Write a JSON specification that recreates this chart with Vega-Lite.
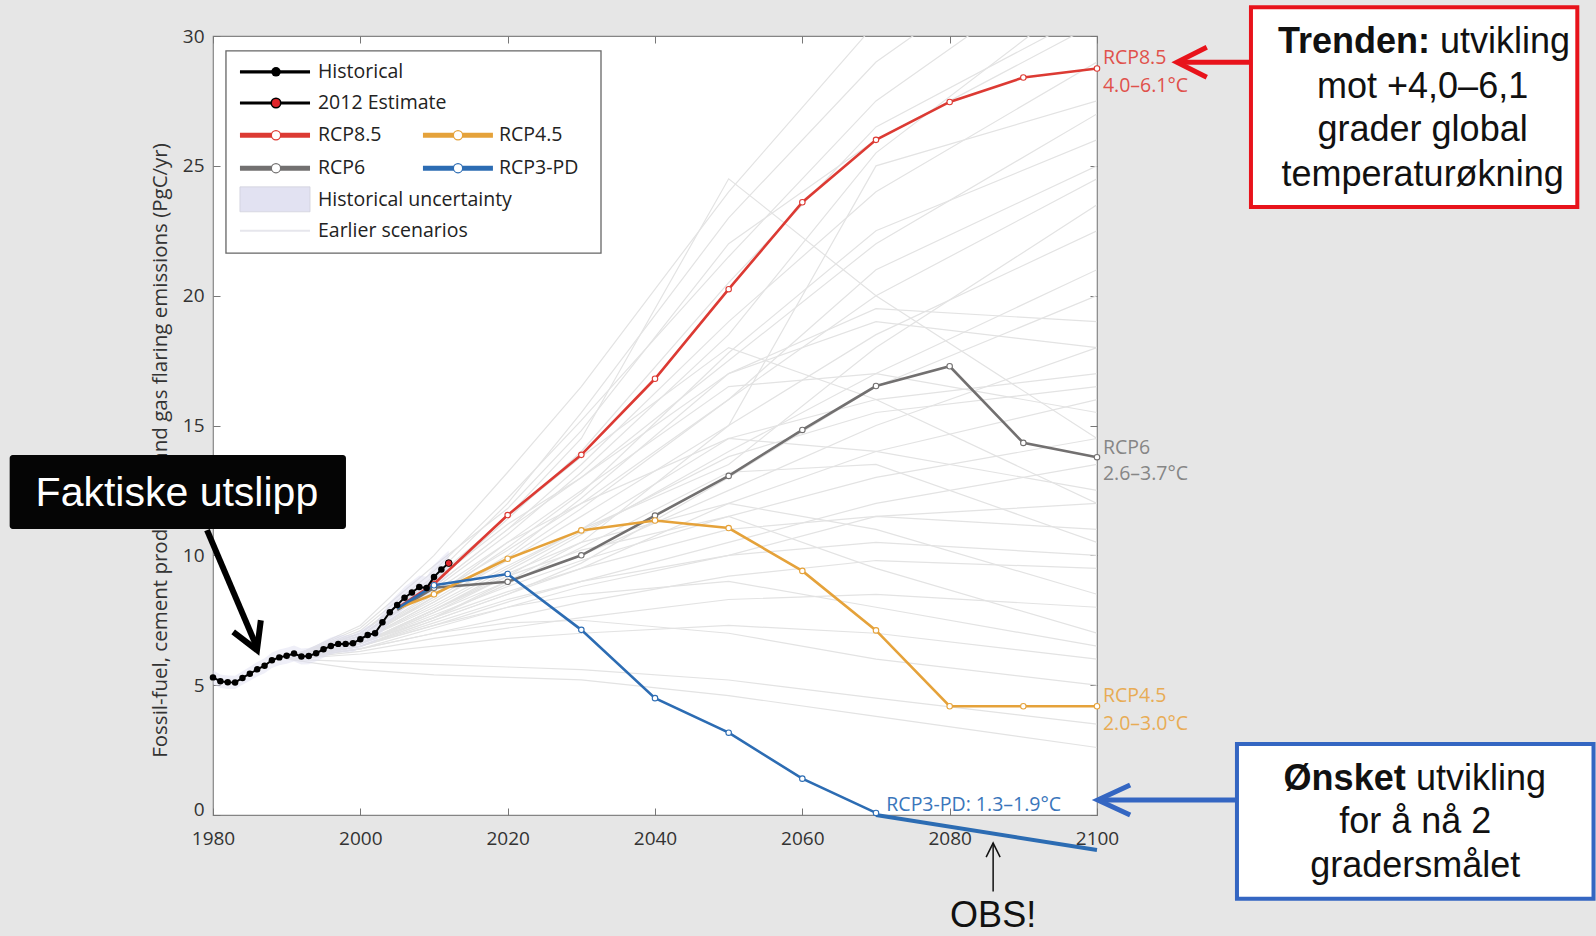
{
  "$schema": "https://vega.github.io/schema/vega-lite/v6.json",
  "width": 884,
  "height": 779,
  "autosize": {"type": "none"},
  "padding": {"left": 213, "top": 36, "right": 499, "bottom": 121},
  "background": "#e6e6e6",
  "view": {"fill": "white", "stroke": "#858585", "strokeWidth": 1.2},
  "config": {
    "font": "Open Sans",
    "axis": {"grid": false, "domain": false, "labelFont": "Open Sans", "titleFont": "Open Sans"}
  },
  "datasets": {
    "old": [
      {"id":1,"year":1990,"v":6.0},{"id":1,"year":2000,"v":7.3},{"id":1,"year":2010,"v":10.0},{"id":1,"year":2020,"v":13.2},{"id":1,"year":2030,"v":16.5},{"id":1,"year":2050,"v":24.0},{"id":1,"year":2070,"v":30.5},{"id":1,"year":2100,"v":37.0},
      {"id":2,"year":1990,"v":6.0},{"id":2,"year":2000,"v":7.1},{"id":2,"year":2010,"v":9.4},{"id":2,"year":2020,"v":12.2},{"id":2,"year":2030,"v":15.2},{"id":2,"year":2050,"v":21.5},{"id":2,"year":2070,"v":27.5},{"id":2,"year":2100,"v":33.5},
      {"id":3,"year":1990,"v":6.0},{"id":3,"year":2000,"v":7.2},{"id":3,"year":2010,"v":9.6},{"id":3,"year":2020,"v":11.8},{"id":3,"year":2030,"v":14.8},{"id":3,"year":2050,"v":22.0},{"id":3,"year":2070,"v":26.0},{"id":3,"year":2100,"v":30.5},
      {"id":4,"year":1990,"v":6.1},{"id":4,"year":2000,"v":6.9},{"id":4,"year":2010,"v":8.8},{"id":4,"year":2020,"v":11.0},{"id":4,"year":2030,"v":13.5},{"id":4,"year":2050,"v":19.0},{"id":4,"year":2070,"v":24.0},{"id":4,"year":2100,"v":29.0},
      {"id":5,"year":1990,"v":6.0},{"id":5,"year":2000,"v":7.0},{"id":5,"year":2010,"v":9.0},{"id":5,"year":2020,"v":11.2},{"id":5,"year":2030,"v":13.0},{"id":5,"year":2050,"v":17.5},{"id":5,"year":2070,"v":22.0},{"id":5,"year":2100,"v":27.0},
      {"id":6,"year":1990,"v":6.0},{"id":6,"year":2000,"v":6.8},{"id":6,"year":2010,"v":8.5},{"id":6,"year":2020,"v":10.2},{"id":6,"year":2030,"v":12.0},{"id":6,"year":2050,"v":16.0},{"id":6,"year":2070,"v":20.0},{"id":6,"year":2100,"v":24.5},
      {"id":7,"year":1990,"v":6.0},{"id":7,"year":2000,"v":6.7},{"id":7,"year":2010,"v":8.2},{"id":7,"year":2020,"v":9.8},{"id":7,"year":2030,"v":11.5},{"id":7,"year":2050,"v":15.0},{"id":7,"year":2070,"v":18.5},{"id":7,"year":2100,"v":22.5},
      {"id":8,"year":1990,"v":6.0},{"id":8,"year":2000,"v":7.0},{"id":8,"year":2010,"v":9.0},{"id":8,"year":2020,"v":11.5},{"id":8,"year":2030,"v":14.5},{"id":8,"year":2050,"v":24.5},{"id":8,"year":2070,"v":20.0},{"id":8,"year":2100,"v":14.5},
      {"id":9,"year":1990,"v":6.0},{"id":9,"year":2000,"v":6.6},{"id":9,"year":2010,"v":7.9},{"id":9,"year":2020,"v":9.2},{"id":9,"year":2030,"v":10.8},{"id":9,"year":2050,"v":14.0},{"id":9,"year":2070,"v":17.0},{"id":9,"year":2100,"v":21.0},
      {"id":10,"year":1990,"v":6.0},{"id":10,"year":2000,"v":6.8},{"id":10,"year":2010,"v":8.3},{"id":10,"year":2020,"v":10.0},{"id":10,"year":2030,"v":12.2},{"id":10,"year":2050,"v":17.0},{"id":10,"year":2070,"v":19.5},{"id":10,"year":2100,"v":19.0},
      {"id":11,"year":1990,"v":6.0},{"id":11,"year":2000,"v":6.6},{"id":11,"year":2010,"v":7.8},{"id":11,"year":2020,"v":9.0},{"id":11,"year":2030,"v":10.0},{"id":11,"year":2050,"v":12.5},{"id":11,"year":2070,"v":15.0},{"id":11,"year":2100,"v":18.0},
      {"id":12,"year":1990,"v":6.0},{"id":12,"year":2000,"v":6.7},{"id":12,"year":2010,"v":8.0},{"id":12,"year":2020,"v":9.5},{"id":12,"year":2030,"v":11.0},{"id":12,"year":2050,"v":14.5},{"id":12,"year":2070,"v":16.0},{"id":12,"year":2100,"v":17.0},
      {"id":13,"year":1990,"v":6.0},{"id":13,"year":2000,"v":6.5},{"id":13,"year":2010,"v":7.5},{"id":13,"year":2020,"v":8.5},{"id":13,"year":2030,"v":9.5},{"id":13,"year":2050,"v":12.0},{"id":13,"year":2070,"v":14.0},{"id":13,"year":2100,"v":16.0},
      {"id":14,"year":1990,"v":6.0},{"id":14,"year":2000,"v":6.7},{"id":14,"year":2010,"v":8.4},{"id":14,"year":2020,"v":10.5},{"id":14,"year":2030,"v":12.5},{"id":14,"year":2050,"v":16.5},{"id":14,"year":2070,"v":17.0},{"id":14,"year":2100,"v":15.5},
      {"id":15,"year":1990,"v":6.0},{"id":15,"year":2000,"v":6.6},{"id":15,"year":2010,"v":7.7},{"id":15,"year":2020,"v":8.8},{"id":15,"year":2030,"v":9.8},{"id":15,"year":2050,"v":11.5},{"id":15,"year":2070,"v":13.0},{"id":15,"year":2100,"v":14.5},
      {"id":16,"year":1990,"v":6.0},{"id":16,"year":2000,"v":6.5},{"id":16,"year":2010,"v":7.3},{"id":16,"year":2020,"v":8.2},{"id":16,"year":2030,"v":9.0},{"id":16,"year":2050,"v":10.5},{"id":16,"year":2070,"v":12.0},{"id":16,"year":2100,"v":13.5},
      {"id":17,"year":1990,"v":6.0},{"id":17,"year":2000,"v":6.8},{"id":17,"year":2010,"v":8.6},{"id":17,"year":2020,"v":10.5},{"id":17,"year":2030,"v":12.0},{"id":17,"year":2050,"v":14.5},{"id":17,"year":2070,"v":14.0},{"id":17,"year":2100,"v":12.5},
      {"id":18,"year":1990,"v":6.0},{"id":18,"year":2000,"v":6.4},{"id":18,"year":2010,"v":7.2},{"id":18,"year":2020,"v":8.0},{"id":18,"year":2030,"v":8.8},{"id":18,"year":2050,"v":10.0},{"id":18,"year":2070,"v":11.5},{"id":18,"year":2100,"v":12.0},
      {"id":19,"year":1990,"v":6.0},{"id":19,"year":2000,"v":6.6},{"id":19,"year":2010,"v":7.6},{"id":19,"year":2020,"v":8.6},{"id":19,"year":2030,"v":9.5},{"id":19,"year":2050,"v":11.0},{"id":19,"year":2070,"v":11.5},{"id":19,"year":2100,"v":11.0},
      {"id":20,"year":1990,"v":6.0},{"id":20,"year":2000,"v":6.5},{"id":20,"year":2010,"v":7.4},{"id":20,"year":2020,"v":8.3},{"id":20,"year":2030,"v":9.0},{"id":20,"year":2050,"v":10.0},{"id":20,"year":2070,"v":10.5},{"id":20,"year":2100,"v":10.0},
      {"id":21,"year":1990,"v":6.0},{"id":21,"year":2000,"v":6.4},{"id":21,"year":2010,"v":7.0},{"id":21,"year":2020,"v":7.6},{"id":21,"year":2030,"v":8.2},{"id":21,"year":2050,"v":9.2},{"id":21,"year":2070,"v":9.8},{"id":21,"year":2100,"v":9.5},
      {"id":22,"year":1990,"v":6.0},{"id":22,"year":2000,"v":6.6},{"id":22,"year":2010,"v":7.9},{"id":22,"year":2020,"v":9.3},{"id":22,"year":2030,"v":10.5},{"id":22,"year":2050,"v":12.0},{"id":22,"year":2070,"v":11.0},{"id":22,"year":2100,"v":8.5},
      {"id":23,"year":1990,"v":6.0},{"id":23,"year":2000,"v":6.3},{"id":23,"year":2010,"v":6.8},{"id":23,"year":2020,"v":7.2},{"id":23,"year":2030,"v":7.6},{"id":23,"year":2050,"v":8.3},{"id":23,"year":2070,"v":8.5},{"id":23,"year":2100,"v":8.0},
      {"id":24,"year":1990,"v":6.0},{"id":24,"year":2000,"v":6.5},{"id":24,"year":2010,"v":7.3},{"id":24,"year":2020,"v":8.0},{"id":24,"year":2030,"v":8.5},{"id":24,"year":2050,"v":9.0},{"id":24,"year":2070,"v":8.0},{"id":24,"year":2100,"v":6.5},
      {"id":25,"year":1990,"v":6.0},{"id":25,"year":2000,"v":6.2},{"id":25,"year":2010,"v":6.5},{"id":25,"year":2020,"v":6.8},{"id":25,"year":2030,"v":7.0},{"id":25,"year":2050,"v":7.3},{"id":25,"year":2070,"v":7.0},{"id":25,"year":2100,"v":6.0},
      {"id":26,"year":1990,"v":6.0},{"id":26,"year":2000,"v":6.4},{"id":26,"year":2010,"v":7.0},{"id":26,"year":2020,"v":7.4},{"id":26,"year":2030,"v":7.5},{"id":26,"year":2050,"v":7.0},{"id":26,"year":2070,"v":6.0},{"id":26,"year":2100,"v":5.0},
      {"id":27,"year":1990,"v":6.0},{"id":27,"year":2000,"v":5.9},{"id":27,"year":2010,"v":5.8},{"id":27,"year":2020,"v":5.7},{"id":27,"year":2030,"v":5.6},{"id":27,"year":2050,"v":5.2},{"id":27,"year":2070,"v":4.5},{"id":27,"year":2100,"v":3.5},
      {"id":28,"year":1990,"v":6.0},{"id":28,"year":2000,"v":5.6},{"id":28,"year":2010,"v":5.4},{"id":28,"year":2020,"v":5.3},{"id":28,"year":2030,"v":5.2},{"id":28,"year":2050,"v":4.6},{"id":28,"year":2070,"v":3.8},{"id":28,"year":2100,"v":2.6},
      {"id":29,"year":1990,"v":6.0},{"id":29,"year":2000,"v":6.6},{"id":29,"year":2010,"v":7.6},{"id":29,"year":2020,"v":9.0},{"id":29,"year":2030,"v":10.5},{"id":29,"year":2050,"v":15.0},{"id":29,"year":2070,"v":25.0},{"id":29,"year":2100,"v":27.5},
      {"id":30,"year":1990,"v":6.0},{"id":30,"year":2000,"v":6.9},{"id":30,"year":2010,"v":8.9},{"id":30,"year":2020,"v":11.4},{"id":30,"year":2030,"v":14.0},{"id":30,"year":2050,"v":20.5},{"id":30,"year":2070,"v":26.5},{"id":30,"year":2100,"v":31.0},
      {"id":31,"year":1990,"v":6.1},{"id":31,"year":2000,"v":7.0},{"id":31,"year":2010,"v":9.1},{"id":31,"year":2020,"v":11.5},{"id":31,"year":2030,"v":13.8},{"id":31,"year":2050,"v":18.0},{"id":31,"year":2070,"v":16.0},{"id":31,"year":2100,"v":12.0},
      {"id":32,"year":1990,"v":6.0},{"id":32,"year":2000,"v":6.6},{"id":32,"year":2010,"v":7.8},{"id":32,"year":2020,"v":9.2},{"id":32,"year":2030,"v":10.2},{"id":32,"year":2050,"v":11.5},{"id":32,"year":2070,"v":9.5},{"id":32,"year":2100,"v":7.0},
      {"id":33,"year":1990,"v":6.0},{"id":33,"year":2000,"v":6.7},{"id":33,"year":2010,"v":8.1},{"id":33,"year":2020,"v":9.6},{"id":33,"year":2030,"v":11.0},{"id":33,"year":2050,"v":13.5},{"id":33,"year":2070,"v":18.0},{"id":33,"year":2100,"v":23.5},
      {"id":34,"year":1990,"v":6.0},{"id":34,"year":2000,"v":6.5},{"id":34,"year":2010,"v":7.5},{"id":34,"year":2020,"v":8.5},{"id":34,"year":2030,"v":9.7},{"id":34,"year":2050,"v":13.0},{"id":34,"year":2070,"v":16.5},{"id":34,"year":2100,"v":20.0},
      {"id":35,"year":1990,"v":6.0},{"id":35,"year":2000,"v":6.9},{"id":35,"year":2010,"v":8.7},{"id":35,"year":2020,"v":10.8},{"id":35,"year":2030,"v":13.2},{"id":35,"year":2050,"v":18.5},{"id":35,"year":2070,"v":25.5},{"id":35,"year":2100,"v":32.0},
      {"id":36,"year":1990,"v":6.0},{"id":36,"year":2000,"v":6.8},{"id":36,"year":2010,"v":8.4},{"id":36,"year":2020,"v":10.3},{"id":36,"year":2030,"v":12.4},{"id":36,"year":2050,"v":17.8},{"id":36,"year":2070,"v":22.5},{"id":36,"year":2100,"v":26.0},
      {"id":37,"year":1990,"v":6.0},{"id":37,"year":2000,"v":6.7},{"id":37,"year":2010,"v":8.2},{"id":37,"year":2020,"v":9.9},{"id":37,"year":2030,"v":11.8},{"id":37,"year":2050,"v":16.0},{"id":37,"year":2070,"v":21.0},{"id":37,"year":2100,"v":25.0},
      {"id":38,"year":1990,"v":6.0},{"id":38,"year":2000,"v":6.9},{"id":38,"year":2010,"v":8.8},{"id":38,"year":2020,"v":11.0},{"id":38,"year":2030,"v":13.0},{"id":38,"year":2050,"v":17.0},{"id":38,"year":2070,"v":19.0},{"id":38,"year":2100,"v":18.0},
      {"id":39,"year":1990,"v":6.0},{"id":39,"year":2000,"v":6.6},{"id":39,"year":2010,"v":7.9},{"id":39,"year":2020,"v":9.4},{"id":39,"year":2030,"v":10.9},{"id":39,"year":2050,"v":13.8},{"id":39,"year":2070,"v":15.5},{"id":39,"year":2100,"v":16.5},
      {"id":40,"year":1990,"v":6.0},{"id":40,"year":2000,"v":6.5},{"id":40,"year":2010,"v":7.6},{"id":40,"year":2020,"v":8.9},{"id":40,"year":2030,"v":10.3},{"id":40,"year":2050,"v":13.2},{"id":40,"year":2070,"v":13.5},{"id":40,"year":2100,"v":10.5},
      {"id":41,"year":1990,"v":6.0},{"id":41,"year":2000,"v":7.0},{"id":41,"year":2010,"v":9.2},{"id":41,"year":2020,"v":12.0},{"id":41,"year":2030,"v":15.5},{"id":41,"year":2050,"v":23.0},{"id":41,"year":2070,"v":29.0},{"id":41,"year":2100,"v":35.0}
    ],
    "hist": [
      {"year":1980,"v":5.30,"lo":5.04,"hi":5.57},{"year":1981,"v":5.15,"lo":4.89,"hi":5.41},{"year":1982,"v":5.11,"lo":4.85,"hi":5.37},{"year":1983,"v":5.10,"lo":4.85,"hi":5.36},
      {"year":1984,"v":5.28,"lo":5.02,"hi":5.54},{"year":1985,"v":5.44,"lo":5.17,"hi":5.71},{"year":1986,"v":5.61,"lo":5.33,"hi":5.89},{"year":1987,"v":5.75,"lo":5.46,"hi":6.04},
      {"year":1988,"v":5.96,"lo":5.66,"hi":6.26},{"year":1989,"v":6.07,"lo":5.77,"hi":6.37},{"year":1990,"v":6.13,"lo":5.82,"hi":6.44},{"year":1991,"v":6.22,"lo":5.91,"hi":6.53},
      {"year":1992,"v":6.10,"lo":5.80,"hi":6.41},{"year":1993,"v":6.12,"lo":5.81,"hi":6.43},{"year":1994,"v":6.23,"lo":5.92,"hi":6.54},{"year":1995,"v":6.38,"lo":6.06,"hi":6.70},
      {"year":1996,"v":6.51,"lo":6.18,"hi":6.84},{"year":1997,"v":6.59,"lo":6.26,"hi":6.92},{"year":1998,"v":6.59,"lo":6.26,"hi":6.92},{"year":1999,"v":6.61,"lo":6.28,"hi":6.94},
      {"year":2000,"v":6.77,"lo":6.43,"hi":7.11},{"year":2001,"v":6.93,"lo":6.58,"hi":7.28},{"year":2002,"v":7.00,"lo":6.65,"hi":7.35},{"year":2003,"v":7.42,"lo":7.05,"hi":7.79},
      {"year":2004,"v":7.81,"lo":7.42,"hi":8.20},{"year":2005,"v":8.09,"lo":7.69,"hi":8.49},{"year":2006,"v":8.37,"lo":7.95,"hi":8.79},{"year":2007,"v":8.57,"lo":8.14,"hi":9.00},
      {"year":2008,"v":8.78,"lo":8.34,"hi":9.22},{"year":2009,"v":8.74,"lo":8.30,"hi":9.18},{"year":2010,"v":9.17,"lo":8.71,"hi":9.63},{"year":2011,"v":9.45,"lo":8.98,"hi":9.92},
      {"year":2012,"v":9.70,"lo":9.22,"hi":10.19}
    ],
    "rcp": [
      {"s":"RCP8.5","year":2005,"v":7.97},{"s":"RCP8.5","year":2010,"v":8.9},{"s":"RCP8.5","year":2020,"v":11.55},{"s":"RCP8.5","year":2030,"v":13.87},{"s":"RCP8.5","year":2040,"v":16.8},{"s":"RCP8.5","year":2050,"v":20.25},{"s":"RCP8.5","year":2060,"v":23.6},{"s":"RCP8.5","year":2070,"v":26.0},{"s":"RCP8.5","year":2080,"v":27.46},{"s":"RCP8.5","year":2090,"v":28.4},{"s":"RCP8.5","year":2100,"v":28.75},
      {"s":"RCP6","year":2005,"v":7.9},{"s":"RCP6","year":2010,"v":8.75},{"s":"RCP6","year":2020,"v":8.98},{"s":"RCP6","year":2030,"v":10.0},{"s":"RCP6","year":2040,"v":11.53},{"s":"RCP6","year":2050,"v":13.06},{"s":"RCP6","year":2060,"v":14.83},{"s":"RCP6","year":2070,"v":16.52},{"s":"RCP6","year":2080,"v":17.28},{"s":"RCP6","year":2090,"v":14.33},{"s":"RCP6","year":2100,"v":13.78},
      {"s":"RCP4.5","year":2005,"v":7.95},{"s":"RCP4.5","year":2010,"v":8.5},{"s":"RCP4.5","year":2020,"v":9.87},{"s":"RCP4.5","year":2030,"v":10.96},{"s":"RCP4.5","year":2040,"v":11.34},{"s":"RCP4.5","year":2050,"v":11.05},{"s":"RCP4.5","year":2060,"v":9.4},{"s":"RCP4.5","year":2070,"v":7.11},{"s":"RCP4.5","year":2080,"v":4.19},{"s":"RCP4.5","year":2090,"v":4.19},{"s":"RCP4.5","year":2100,"v":4.19},
      {"s":"RCP3-PD","year":2005,"v":7.95},{"s":"RCP3-PD","year":2010,"v":8.85},{"s":"RCP3-PD","year":2020,"v":9.28},{"s":"RCP3-PD","year":2030,"v":7.13},{"s":"RCP3-PD","year":2040,"v":4.5},{"s":"RCP3-PD","year":2050,"v":3.17},{"s":"RCP3-PD","year":2060,"v":1.4},{"s":"RCP3-PD","year":2070,"v":0.08}
    ],
    "ext": [{"year":2070,"v":0.0},{"year":2100,"v":-1.35}],
    "rcplab": [
      {"s":"RCP8.5","x":2100.8,"y":29.15,"t":"RCP8.5"},{"s":"RCP8.5","x":2100.8,"y":28.07,"t":"4.0–6.1°C"},
      {"s":"RCP6","x":2100.8,"y":14.13,"t":"RCP6"},{"s":"RCP6","x":2100.8,"y":13.13,"t":"2.6–3.7°C"},
      {"s":"RCP4.5","x":2100.8,"y":4.58,"t":"RCP4.5"},{"s":"RCP4.5","x":2100.8,"y":3.5,"t":"2.0–3.0°C"},
      {"s":"RCP3-PD","x":2071.4,"y":0.4,"t":"RCP3-PD: 1.3–1.9°C"}
    ],
    "legbox": [{"x":1981.76,"x2":2032.67,"y":29.43,"y2":21.64}],
    "legunc": [{"x":1983.66,"x2":1993.17,"y":24.19,"y2":23.23}],
    "legblack": [
      {"s":"Historical","x":1983.66,"x2":1993.17,"y":28.62},
      {"s":"2012 Estimate","x":1983.66,"x2":1993.17,"y":27.42}
    ],
    "legrcp": [
      {"s":"RCP8.5","x":1983.66,"x2":1993.17,"y":26.18,"mx":1988.55},
      {"s":"RCP4.5","x":2008.5,"x2":2018.0,"y":26.18,"mx":2013.26},
      {"s":"RCP6","x":1983.66,"x2":1993.17,"y":24.91,"mx":1988.55},
      {"s":"RCP3-PD","x":2008.5,"x2":2018.0,"y":24.91,"mx":2013.26}
    ],
    "legold": [{"x":1983.66,"x2":1993.17,"y":22.5}],
    "leghist": [{"x":1988.55,"y":28.62}],
    "legest": [{"x":1988.55,"y":27.42}],
    "legtext": [
      {"x":1994.25,"y":28.62,"t":"Historical"},
      {"x":1994.25,"y":27.42,"t":"2012 Estimate"},
      {"x":1994.25,"y":26.18,"t":"RCP8.5"},
      {"x":2018.82,"y":26.18,"t":"RCP4.5"},
      {"x":1994.25,"y":24.91,"t":"RCP6"},
      {"x":2018.82,"y":24.91,"t":"RCP3-PD"},
      {"x":1994.25,"y":23.68,"t":"Historical uncertainty"},
      {"x":1994.25,"y":22.5,"t":"Earlier scenarios"}
    ],
    "boxred": [{"x":2120.9,"x2":2165.2,"y":31.11,"y2":23.41}],
    "boxblue": [{"x":2119.0,"x2":2167.4,"y":2.73,"y2":-3.23}],
    "boxblack": [{"x":1952.4,"x2":1998.05,"y":13.86,"y2":11.01}],
    "bigbold": [
      {"x":2145.2,"y":29.77,"t":"Trenden:"},
      {"x":2141.9,"y":1.39,"t":"Ønsket"}
    ],
    "bigleft": [
      {"x":2146.55,"y":29.77,"t":"utvikling"},
      {"x":2143.3,"y":1.39,"t":"utvikling"}
    ],
    "bigcenter": [
      {"x":2144.2,"y":28.03,"t":"mot +4,0–6,1"},
      {"x":2144.2,"y":26.38,"t":"grader global"},
      {"x":2144.2,"y":24.65,"t":"temperaturøkning"},
      {"x":2143.2,"y":-0.27,"t":"for å nå 2"},
      {"x":2143.2,"y":-1.96,"t":"gradersmålet"},
      {"x":2085.9,"y":-3.88,"t":"OBS!"}
    ],
    "whitetext": [{"x":1975.1,"y":12.36,"t":"Faktiske utslipp"}],
    "arrred": [
      {"p":"a","o":1,"x":2111.3,"y":28.99},{"p":"a","o":2,"x":2121.0,"y":28.99},
      {"p":"b","o":1,"x":2114.9,"y":29.57},{"p":"b","o":2,"x":2110.85,"y":28.99},{"p":"b","o":3,"x":2114.9,"y":28.41}
    ],
    "arrblue": [
      {"p":"a","o":1,"x":2100.5,"y":0.578},{"p":"a","o":2,"x":2119.0,"y":0.578},
      {"p":"b","o":1,"x":2104.5,"y":1.155},{"p":"b","o":2,"x":2100.1,"y":0.578},{"p":"b","o":3,"x":2104.5,"y":0.0}
    ],
    "arrblack": [
      {"p":"a","o":1,"x":1979.19,"y":10.97},{"p":"a","o":2,"x":1985.9,"y":6.5},
      {"p":"b","o":1,"x":1982.74,"y":7.05},{"p":"b","o":2,"x":1985.97,"y":6.35},{"p":"b","o":3,"x":1986.49,"y":7.5}
    ],
    "arrobs": [
      {"p":"a","o":1,"x":2085.9,"y":-2.95},{"p":"a","o":2,"x":2085.9,"y":-1.08},
      {"p":"b","o":1,"x":2084.95,"y":-1.62},{"p":"b","o":2,"x":2085.9,"y":-1.08},{"p":"b","o":3,"x":2086.85,"y":-1.62}
    ]
  },
  "layer": [
    {
      "data": {"name": "old"},
      "mark": {"type": "line", "clip": true, "color": "#e3e3e3", "strokeWidth": 1.2},
      "encoding": {
        "x": {"field": "year", "type": "quantitative", "scale": {"domain": [1980, 2100], "nice": false, "zero": false},
          "axis": {"orient": "bottom", "values": [1980, 2000, 2020, 2040, 2060, 2080, 2100], "format": "d", "title": null, "labelFlush": false,
            "tickSize": -7, "tickColor": "#777", "labelPadding": 21, "labelFontSize": 19, "labelColor": "#333"}},
        "y": {"field": "v", "type": "quantitative", "scale": {"domain": [0, 30], "nice": false},
          "axis": {"orient": "left", "values": [0, 5, 10, 15, 20, 25, 30], "tickSize": -7, "tickColor": "#777", "labelPadding": 16,
            "labelFontSize": 19, "labelColor": "#333", "labelFlush": false,
            "labelBaseline": {"condition": {"test": "datum.value == 0", "value": "alphabetic"}, "value": "middle"},
            "title": "Fossil-fuel, cement production and gas flaring emissions (PgC/yr)",
            "titleFontSize": 20.5, "titleFontWeight": "normal", "titleColor": "#333", "titlePadding": 12, "titleY": 414}},
        "detail": {"field": "id"}
      }
    },
    {
      "data": {"name": "hist"},
      "mark": {"type": "area", "color": "#dcdcf0", "opacity": 0.45},
      "encoding": {
        "x": {"field": "year", "type": "quantitative", "scale": {"domain": [1980, 2100], "nice": false, "zero": false},
          "axis": {"orient": "top", "values": [1980, 2000, 2020, 2040, 2060, 2080, 2100], "labels": false, "title": null, "tickSize": -7, "tickColor": "#777"}},
        "y": {"field": "lo", "type": "quantitative", "scale": {"domain": [0, 30], "nice": false},
          "axis": {"orient": "right", "values": [0, 5, 10, 15, 20, 25, 30], "labels": false, "title": null, "tickSize": -7, "tickColor": "#777"}},
        "y2": {"field": "hi"}
      }
    },
    {
      "data": {"name": "rcp"},
      "mark": {"type": "line", "strokeWidth": 2.6},
      "encoding": {
        "x": {"field": "year", "type": "quantitative", "axis": null},
        "y": {"field": "v", "type": "quantitative", "axis": null},
        "color": {"field": "s", "type": "nominal", "legend": null,
          "scale": {"domain": ["RCP8.5", "RCP6", "RCP4.5", "RCP3-PD", "Historical", "2012 Estimate"], "range": ["#dc3a33", "#727070", "#e5a23a", "#2c6cb3", "#000000", "#000000"]}}
      }
    },
    {
      "data": {"name": "ext"},
      "mark": {"type": "line", "strokeWidth": 4, "color": "#2c6cb3"},
      "encoding": {
        "x": {"field": "year", "type": "quantitative", "axis": null},
        "y": {"field": "v", "type": "quantitative", "axis": null}
      }
    },
    {
      "data": {"name": "rcp"},
      "transform": [{"filter": "datum.year >= 2010"}],
      "mark": {"type": "point", "filled": true, "fill": "white", "size": 30, "strokeWidth": 1.1, "opacity": 1},
      "encoding": {
        "x": {"field": "year", "type": "quantitative", "axis": null},
        "y": {"field": "v", "type": "quantitative", "axis": null},
        "stroke": {"field": "s", "type": "nominal", "legend": null,
          "scale": {"domain": ["RCP8.5", "RCP6", "RCP4.5", "RCP3-PD"], "range": ["#dc3a33", "#727070", "#e5a23a", "#2c6cb3"]}}
      }
    },
    {
      "data": {"name": "hist"},
      "mark": {"type": "line", "color": "#000000", "strokeWidth": 2},
      "encoding": {
        "x": {"field": "year", "type": "quantitative", "axis": null},
        "y": {"field": "v", "type": "quantitative", "axis": null}
      }
    },
    {
      "data": {"name": "hist"},
      "transform": [{"filter": "datum.year <= 2011"}],
      "mark": {"type": "point", "filled": true, "color": "#000000", "size": 42, "opacity": 1},
      "encoding": {
        "x": {"field": "year", "type": "quantitative", "axis": null},
        "y": {"field": "v", "type": "quantitative", "axis": null}
      }
    },
    {
      "data": {"name": "hist"},
      "transform": [{"filter": "datum.year == 2012"}],
      "mark": {"type": "point", "filled": true, "fill": "#e0242a", "stroke": "#000000", "strokeWidth": 1, "size": 46, "opacity": 1},
      "encoding": {
        "x": {"field": "year", "type": "quantitative", "axis": null},
        "y": {"field": "v", "type": "quantitative", "axis": null}
      }
    },
    {
      "data": {"name": "rcplab"},
      "mark": {"type": "text", "align": "left", "baseline": "middle", "fontSize": 19.5, "font": "Open Sans"},
      "encoding": {
        "x": {"field": "x", "type": "quantitative", "axis": null},
        "y": {"field": "y", "type": "quantitative", "axis": null},
        "text": {"field": "t"},
        "fill": {"field": "s", "type": "nominal", "legend": null,
          "scale": {"domain": ["RCP8.5", "RCP6", "RCP4.5", "RCP3-PD"], "range": ["#e0514b", "#868686", "#e8ac55", "#3a76bb"]}}
      }
    },
    {
      "data": {"name": "legbox"},
      "mark": {"type": "rect", "fill": "white", "stroke": "#666666", "strokeWidth": 1.3},
      "encoding": {
        "x": {"field": "x", "type": "quantitative", "axis": null},
        "x2": {"field": "x2"},
        "y": {"field": "y", "type": "quantitative", "axis": null},
        "y2": {"field": "y2"}
      }
    },
    {
      "data": {"name": "legunc"},
      "mark": {"type": "rect", "fill": "#e2e2f2", "stroke": "#d0d0dc", "strokeWidth": 0.8},
      "encoding": {
        "x": {"field": "x", "type": "quantitative", "axis": null},
        "x2": {"field": "x2"},
        "y": {"field": "y", "type": "quantitative", "axis": null},
        "y2": {"field": "y2"}
      }
    },
    {
      "data": {"name": "legold"},
      "mark": {"type": "rule", "color": "#e6e6ec", "strokeWidth": 2},
      "encoding": {
        "x": {"field": "x", "type": "quantitative", "axis": null},
        "x2": {"field": "x2"},
        "y": {"field": "y", "type": "quantitative", "axis": null}
      }
    },
    {
      "data": {"name": "legblack"},
      "mark": {"type": "rule", "color": "#000000", "strokeWidth": 3.2},
      "encoding": {
        "x": {"field": "x", "type": "quantitative", "axis": null},
        "x2": {"field": "x2"},
        "y": {"field": "y", "type": "quantitative", "axis": null}
      }
    },
    {
      "data": {"name": "legrcp"},
      "mark": {"type": "rule", "strokeWidth": 5},
      "encoding": {
        "x": {"field": "x", "type": "quantitative", "axis": null},
        "x2": {"field": "x2"},
        "y": {"field": "y", "type": "quantitative", "axis": null},
        "color": {"field": "s", "type": "nominal", "legend": null,
          "scale": {"domain": ["RCP8.5", "RCP6", "RCP4.5", "RCP3-PD", "Historical", "2012 Estimate"], "range": ["#dc3a33", "#727070", "#e5a23a", "#2c6cb3", "#000000", "#000000"]}}
      }
    },
    {
      "data": {"name": "legrcp"},
      "mark": {"type": "point", "filled": true, "fill": "white", "size": 85, "strokeWidth": 1.2, "opacity": 1},
      "encoding": {
        "x": {"field": "mx", "type": "quantitative", "axis": null},
        "y": {"field": "y", "type": "quantitative", "axis": null},
        "stroke": {"field": "s", "type": "nominal", "legend": null,
          "scale": {"domain": ["RCP8.5", "RCP6", "RCP4.5", "RCP3-PD"], "range": ["#dc3a33", "#727070", "#e5a23a", "#2c6cb3"]}}
      }
    },
    {
      "data": {"name": "leghist"},
      "mark": {"type": "point", "filled": true, "color": "#000000", "size": 90, "opacity": 1},
      "encoding": {
        "x": {"field": "x", "type": "quantitative", "axis": null},
        "y": {"field": "y", "type": "quantitative", "axis": null}
      }
    },
    {
      "data": {"name": "legest"},
      "mark": {"type": "point", "filled": true, "fill": "#e0242a", "stroke": "#000000", "strokeWidth": 1.5, "size": 90, "opacity": 1},
      "encoding": {
        "x": {"field": "x", "type": "quantitative", "axis": null},
        "y": {"field": "y", "type": "quantitative", "axis": null}
      }
    },
    {
      "data": {"name": "legtext"},
      "mark": {"type": "text", "align": "left", "baseline": "middle", "fontSize": 19.5, "font": "Open Sans", "color": "#222222"},
      "encoding": {
        "x": {"field": "x", "type": "quantitative", "axis": null},
        "y": {"field": "y", "type": "quantitative", "axis": null},
        "text": {"field": "t"}
      }
    },
    {
      "data": {"name": "boxred"},
      "mark": {"type": "rect", "fill": "white", "stroke": "#e8131b", "strokeWidth": 4},
      "encoding": {
        "x": {"field": "x", "type": "quantitative", "axis": null},
        "x2": {"field": "x2"},
        "y": {"field": "y", "type": "quantitative", "axis": null},
        "y2": {"field": "y2"}
      }
    },
    {
      "data": {"name": "boxblue"},
      "mark": {"type": "rect", "fill": "white", "stroke": "#3466c2", "strokeWidth": 4},
      "encoding": {
        "x": {"field": "x", "type": "quantitative", "axis": null},
        "x2": {"field": "x2"},
        "y": {"field": "y", "type": "quantitative", "axis": null},
        "y2": {"field": "y2"}
      }
    },
    {
      "data": {"name": "boxblack"},
      "mark": {"type": "rect", "fill": "#050505", "cornerRadius": 3},
      "encoding": {
        "x": {"field": "x", "type": "quantitative", "axis": null},
        "x2": {"field": "x2"},
        "y": {"field": "y", "type": "quantitative", "axis": null},
        "y2": {"field": "y2"}
      }
    },
    {
      "data": {"name": "bigbold"},
      "mark": {"type": "text", "align": "right", "baseline": "middle", "fontSize": 36, "fontWeight": "bold", "font": "Liberation Sans", "color": "#111111"},
      "encoding": {
        "x": {"field": "x", "type": "quantitative", "axis": null},
        "y": {"field": "y", "type": "quantitative", "axis": null},
        "text": {"field": "t"}
      }
    },
    {
      "data": {"name": "bigleft"},
      "mark": {"type": "text", "align": "left", "baseline": "middle", "fontSize": 36, "font": "Liberation Sans", "color": "#111111"},
      "encoding": {
        "x": {"field": "x", "type": "quantitative", "axis": null},
        "y": {"field": "y", "type": "quantitative", "axis": null},
        "text": {"field": "t"}
      }
    },
    {
      "data": {"name": "bigcenter"},
      "mark": {"type": "text", "align": "center", "baseline": "middle", "fontSize": 36, "font": "Liberation Sans", "color": "#111111"},
      "encoding": {
        "x": {"field": "x", "type": "quantitative", "axis": null},
        "y": {"field": "y", "type": "quantitative", "axis": null},
        "text": {"field": "t"}
      }
    },
    {
      "data": {"name": "whitetext"},
      "mark": {"type": "text", "align": "center", "baseline": "middle", "fontSize": 41, "font": "Liberation Sans", "color": "#ffffff"},
      "encoding": {
        "x": {"field": "x", "type": "quantitative", "axis": null},
        "y": {"field": "y", "type": "quantitative", "axis": null},
        "text": {"field": "t"}
      }
    },
    {
      "data": {"name": "arrred"},
      "mark": {"type": "line", "color": "#e8131b", "strokeWidth": 5, "strokeJoin": "miter"},
      "encoding": {
        "x": {"field": "x", "type": "quantitative", "axis": null},
        "y": {"field": "y", "type": "quantitative", "axis": null},
        "detail": {"field": "p"},
        "order": {"field": "o"}
      }
    },
    {
      "data": {"name": "arrblue"},
      "mark": {"type": "line", "color": "#3466c2", "strokeWidth": 5, "strokeJoin": "miter"},
      "encoding": {
        "x": {"field": "x", "type": "quantitative", "axis": null},
        "y": {"field": "y", "type": "quantitative", "axis": null},
        "detail": {"field": "p"},
        "order": {"field": "o"}
      }
    },
    {
      "data": {"name": "arrblack"},
      "mark": {"type": "line", "color": "#000000", "strokeWidth": 6, "strokeJoin": "miter"},
      "encoding": {
        "x": {"field": "x", "type": "quantitative", "axis": null},
        "y": {"field": "y", "type": "quantitative", "axis": null},
        "detail": {"field": "p"},
        "order": {"field": "o"}
      }
    },
    {
      "data": {"name": "arrobs"},
      "mark": {"type": "line", "color": "#111111", "strokeWidth": 1.5},
      "encoding": {
        "x": {"field": "x", "type": "quantitative", "axis": null},
        "y": {"field": "y", "type": "quantitative", "axis": null},
        "detail": {"field": "p"},
        "order": {"field": "o"}
      }
    }
  ]
}
